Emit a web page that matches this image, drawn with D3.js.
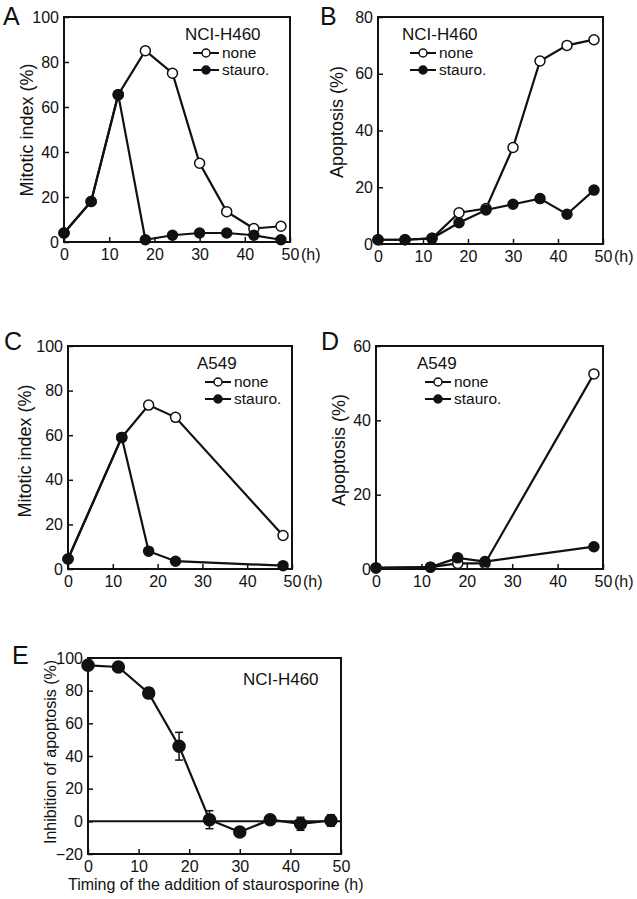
<!DOCTYPE html>
<html>
<head>
<meta charset="utf-8">
<script src="https://cdn.jsdelivr.net/npm/d3@7"></script>
<style>
  body { margin: 0; background: #fff; }
  svg { display: block; font-family: "Liberation Sans", Arial, sans-serif; }
  .tick text { font-size: 16px; fill: #111; }
  .tick line { stroke: #111; stroke-width: 1.5; }
</style>
</head>
<body>
<div id="chart"></div>
<script>
// Data
var timeH460 = [0, 6, 12, 18, 24, 30, 36, 42, 48];
var mitoticH460None = [4, 18, 65.5, 85, 75, 35, 13.5, 6, 7];
var mitoticH460Stauro = [4, 18, 65.5, 1, 3, 4, 4, 3, 1];
var apoptosisH460None = [1.5, 1.5, 2, 11, 12.5, 34, 64.5, 70, 72];
var apoptosisH460Stauro = [1.5, 1.5, 2, 7.5, 12, 14, 16, 10.5, 19];

var timeA549 = [0, 12, 18, 24, 48];
var mitoticA549None = [4.5, 59, 73.5, 68, 15];
var mitoticA549Stauro = [4.5, 59, 8, 3.5, 1.5];
var apoptosisA549None = [0.3, 0.5, 1.5, 1.5, 52.5];
var apoptosisA549Stauro = [0.3, 0.5, 3, 2, 6];

var timeAddition = [0, 6, 12, 18, 24, 30, 36, 42, 48];
var inhibition = [95.5, 94.5, 78.5, 46, 1, -6.5, 1, -1.5, 0.5];
var inhibitionErr = [1, 1, 3, 8.5, 5.5, 1, 1, 4, 3.5];

var xTicks = [0, 10, 20, 30, 40, 50];
var yTicksMitotic = [0, 20, 40, 60, 80, 100];
var yTicksApopH460 = [0, 20, 40, 60, 80];
var yTicksApopA549 = [0, 20, 40, 60];
var yTicksInhib = [-20, 0, 20, 40, 60, 80, 100];

var svg = d3.select("#chart")
    .append("svg")
    .attr("width", 637)
    .attr("height", 899);

function zip(xs, ys) {
    return xs.map((x, i) => ({x: x, y: ys[i]}));
}

// draws one panel: frame, axes, series, legend
function drawPanel(p) {
    var x = d3.scaleLinear().domain([0, 50]).range([p.x0, p.x1]);
    var y = d3.scaleLinear().domain(p.yDomain).range([p.y0, p.y1]);
    var g = svg.append("g");

    var bottomAxis = d3.axisBottom(x).tickValues(xTicks).tickSize(-5).tickSizeOuter(0).tickPadding(7);
    var leftAxis = d3.axisLeft(y).tickValues(p.yTicks).tickSize(-5).tickSizeOuter(0).tickPadding(5);

    var xa = g.append("g").attr("transform", `translate(0, ${p.y0})`).call(bottomAxis);
    var ya = g.append("g").attr("transform", `translate(${p.x0}, 0)`).call(leftAxis);
    xa.select(".domain").remove();
    ya.select(".domain").remove();

    // frame
    g.append("rect")
        .attr("x", p.x0).attr("y", p.y1)
        .attr("width", p.x1 - p.x0).attr("height", p.y0 - p.y1)
        .attr("fill", "none").attr("stroke", "#111").attr("stroke-width", 2);

    if (p.hUnit) {
        g.append("text").attr("x", p.x1 + 11).attr("y", p.y0 + 18)
            .attr("font-size", 16).attr("fill", "#111").text("(h)");
    }

    // y title
    g.append("text")
        .attr("transform", `translate(${p.titleX}, ${p.titleY}) rotate(-90)`)
        .attr("text-anchor", "middle")
        .attr("font-size", p.titleSize).attr("fill", "#111")
        .text(p.yTitle);

    // panel letter
    g.append("text").attr("x", p.letterX).attr("y", p.letterY)
        .attr("font-size", 25).attr("fill", "#111").text(p.letter);

    var line = d3.line().x(d => x(d.x)).y(d => y(d.y));

    p.series.forEach(s => {
        g.append("path").datum(s.points)
            .attr("d", line)
            .attr("fill", "none").attr("stroke", "#111").attr("stroke-width", 2.2);
    });

    // error bars (panel E)
    if (p.errors) {
        p.errors.forEach(e => {
            var eg = g.append("g").attr("stroke", "#111").attr("stroke-width", 1.5);
            eg.append("line").attr("x1", x(e.x)).attr("x2", x(e.x)).attr("y1", y(e.y - e.err)).attr("y2", y(e.y + e.err));
            eg.append("line").attr("x1", x(e.x) - 4).attr("x2", x(e.x) + 4).attr("y1", y(e.y - e.err)).attr("y2", y(e.y - e.err));
            eg.append("line").attr("x1", x(e.x) - 4).attr("x2", x(e.x) + 4).attr("y1", y(e.y + e.err)).attr("y2", y(e.y + e.err));
        });
    }

    p.series.forEach(s => {
        g.selectAll(null).data(s.points).enter()
            .append("circle")
            .attr("cx", d => x(d.x))
            .attr("cy", d => y(d.y))
            .attr("r", p.r || 5)
            .attr("fill", s.filled ? "#111" : "#fff")
            .attr("stroke", "#111")
            .attr("stroke-width", 1.5);
    });

    // zero line (panel E)
    if (p.zeroLine) {
        g.append("line").attr("x1", p.x0).attr("x2", p.x1)
            .attr("y1", y(0)).attr("y2", y(0))
            .attr("stroke", "#111").attr("stroke-width", 2);
    }

    // legend
    g.append("text").attr("x", p.legX).attr("y", p.legY)
        .attr("font-size", 17).attr("fill", "#111").text(p.cell);
    if (p.legend) {
        [{label: "none", filled: false}, {label: "stauro.", filled: true}].forEach((l, i) => {
            var ly = p.legY + 18 + i * 17;
            g.append("line").attr("x1", p.legX + 8).attr("x2", p.legX + 34)
                .attr("y1", ly - 5).attr("y2", ly - 5)
                .attr("stroke", "#111").attr("stroke-width", 2);
            g.append("circle").attr("cx", p.legX + 21).attr("cy", ly - 5).attr("r", 4)
                .attr("fill", l.filled ? "#111" : "#fff").attr("stroke", "#111").attr("stroke-width", 1.5);
            g.append("text").attr("x", p.legX + 37).attr("y", ly)
                .attr("font-size", 15.5).attr("fill", "#111").text(l.label);
        });
    }
}

drawPanel({
    letter: "A", letterX: 3, letterY: 25,
    x0: 64, x1: 290, y0: 242, y1: 17, yDomain: [0, 100], yTicks: yTicksMitotic,
    yTitle: "Mitotic index (%)", titleX: 33, titleY: 130, titleSize: 18,
    cell: "NCI-H460", legX: 185, legY: 40, legend: true, hUnit: true,
    series: [
        {points: zip(timeH460, mitoticH460None), filled: false},
        {points: zip(timeH460, mitoticH460Stauro), filled: true}
    ]
});

drawPanel({
    letter: "B", letterX: 320, letterY: 25,
    x0: 378, x1: 603, y0: 244, y1: 17, yDomain: [0, 80], yTicks: yTicksApopH460,
    yTitle: "Apoptosis (%)", titleX: 343, titleY: 122, titleSize: 18,
    cell: "NCI-H460", legX: 402, legY: 40, legend: true, hUnit: true,
    series: [
        {points: zip(timeH460, apoptosisH460None), filled: false},
        {points: zip(timeH460, apoptosisH460Stauro), filled: true}
    ]
});

drawPanel({
    letter: "C", letterX: 4, letterY: 350,
    x0: 68, x1: 292, y0: 569, y1: 346, yDomain: [0, 100], yTicks: yTicksMitotic,
    yTitle: "Mitotic index (%)", titleX: 31, titleY: 451, titleSize: 18,
    cell: "A549", legX: 197, legY: 369, legend: true, hUnit: true,
    series: [
        {points: zip(timeA549, mitoticA549None), filled: false},
        {points: zip(timeA549, mitoticA549Stauro), filled: true}
    ]
});

drawPanel({
    letter: "D", letterX: 321, letterY: 350,
    x0: 376, x1: 603, y0: 569, y1: 346, yDomain: [0, 60], yTicks: yTicksApopA549,
    yTitle: "Apoptosis (%)", titleX: 345, titleY: 450, titleSize: 18,
    cell: "A549", legX: 417, legY: 369, legend: true, hUnit: true,
    series: [
        {points: zip(timeA549, apoptosisA549None), filled: false},
        {points: zip(timeA549, apoptosisA549Stauro), filled: true}
    ]
});

drawPanel({
    letter: "E", letterX: 12, letterY: 664,
    x0: 88, x1: 341, y0: 854, y1: 658, yDomain: [-20, 100], yTicks: yTicksInhib,
    yTitle: "Inhibition of apoptosis (%)", titleX: 56, titleY: 752, titleSize: 16,
    cell: "NCI-H460", legX: 243, legY: 685, legend: false, hUnit: false,
    zeroLine: true, r: 6,
    series: [
        {points: zip(timeAddition, inhibition), filled: true}
    ],
    errors: timeAddition.map((t, i) => ({x: t, y: inhibition[i], err: inhibitionErr[i]}))
});

svg.append("text")
    .attr("x", 68).attr("y", 890)
    .attr("font-size", 16).attr("fill", "#111")
    .text("Timing of the addition of staurosporine (h)");
</script>
</body>
</html>
